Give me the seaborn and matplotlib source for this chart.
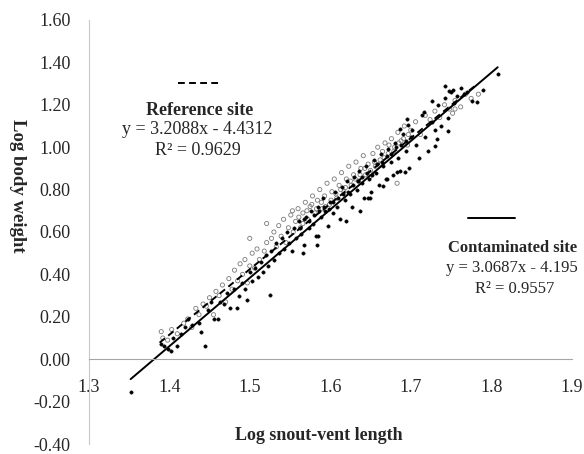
import numpy as np
import pandas as pd
import matplotlib
matplotlib.use("Agg")
import matplotlib.pyplot as plt
import seaborn as sns

# reference site (open circles)
ref_x = [1.390, 1.392, 1.398, 1.403, 1.410, 1.418, 1.423, 1.428, 1.433, 1.437,
         1.442, 1.446, 1.450, 1.455, 1.458, 1.462, 1.466, 1.470, 1.474, 1.478,
         1.481, 1.485, 1.488, 1.491, 1.494, 1.497, 1.500, 1.503, 1.506, 1.509,
         1.512, 1.500, 1.518, 1.521, 1.521, 1.527, 1.530, 1.533, 1.536, 1.539,
         1.542, 1.545, 1.548, 1.551, 1.553, 1.554, 1.557, 1.560, 1.563, 1.566,
         1.569, 1.572, 1.575, 1.578, 1.581, 1.584, 1.587, 1.590, 1.593, 1.596,
         1.599, 1.602, 1.605, 1.608, 1.611, 1.614, 1.617, 1.620, 1.623, 1.626,
         1.629, 1.632, 1.635, 1.638, 1.641, 1.644, 1.647, 1.650, 1.653, 1.656,
         1.659, 1.662, 1.665, 1.668, 1.672, 1.676, 1.680, 1.683, 1.684, 1.688,
         1.692, 1.696, 1.700, 1.706, 1.712, 1.718, 1.724, 1.730, 1.736, 1.742,
         1.748, 1.752, 1.755, 1.755, 1.762, 1.768, 1.775, 1.784,
         1.561, 1.566, 1.571, 1.577, 1.583, 1.589, 1.594, 1.601, 1.607, 1.613,
         1.619, 1.625, 1.631, 1.637, 1.643, 1.649, 1.655, 1.661, 1.667, 1.673,
         1.679, 1.685, 1.691, 1.697]
ref_y = [0.13, 0.10, 0.09, 0.14, 0.12, 0.17, 0.19, 0.15, 0.24, 0.21,
         0.26, 0.25, 0.29, 0.21, 0.32, 0.30, 0.35, 0.27, 0.38, 0.33,
         0.42, 0.37, 0.45, 0.40, 0.47, 0.36, 0.44, 0.50, 0.43, 0.52,
         0.47, 0.57, 0.51, 0.55, 0.64, 0.57, 0.60, 0.53, 0.63, 0.58,
         0.66, 0.55, 0.62, 0.68, 0.70, 0.60, 0.65, 0.71, 0.62, 0.69,
         0.74, 0.66, 0.72, 0.77, 0.69, 0.75, 0.80, 0.71, 0.77, 0.83,
         0.73, 0.79, 0.85, 0.76, 0.82, 0.88, 0.79, 0.85, 0.91, 0.82,
         0.87, 0.93, 0.84, 0.90, 0.96, 0.87, 0.92, 0.89, 0.97, 0.91,
         1.00, 0.94, 0.98, 1.02, 0.97, 1.04, 1.00, 0.83, 1.07, 1.03,
         1.10, 1.01, 1.08, 1.12, 1.06, 1.15, 1.13, 1.17, 1.14, 1.20,
         1.18, 1.16, 1.18, 1.22, 1.19, 1.25, 1.23, 1.25,
         0.67, 0.64, 0.70, 0.73, 0.71, 0.74, 0.72, 0.75, 0.78, 0.80,
         0.81, 0.84, 0.85, 0.87, 0.90, 0.86, 0.93, 0.92, 0.95, 1.01,
         0.98, 1.02, 1.04, 1.06]

# contaminated site (filled dots)
con_x = [1.352, 1.390, 1.393, 1.398, 1.402, 1.405, 1.410, 1.415, 1.420, 1.423,
         1.428, 1.437, 1.440, 1.445, 1.448, 1.452, 1.455, 1.460, 1.463, 1.468,
         1.472, 1.476, 1.480, 1.484, 1.487, 1.490, 1.494, 1.497, 1.500, 1.503,
         1.507, 1.510, 1.514, 1.517, 1.520, 1.523, 1.525, 1.527, 1.530, 1.533,
         1.536, 1.540, 1.543, 1.546, 1.549, 1.552, 1.555, 1.558, 1.561, 1.564,
         1.566, 1.567, 1.570, 1.573, 1.576, 1.579, 1.582, 1.583, 1.585, 1.585,
         1.588, 1.591, 1.594, 1.597, 1.600, 1.603, 1.606, 1.609, 1.612, 1.615,
         1.618, 1.620, 1.621, 1.624, 1.627, 1.630, 1.633, 1.636, 1.637, 1.639,
         1.642, 1.645, 1.647, 1.648, 1.649, 1.651, 1.654, 1.657, 1.660, 1.663,
         1.665, 1.666, 1.669, 1.671, 1.672, 1.675, 1.678, 1.681, 1.683, 1.684,
         1.687, 1.687, 1.690, 1.693, 1.694, 1.695, 1.696, 1.698, 1.702, 1.706,
         1.710, 1.714, 1.717, 1.718, 1.722, 1.726, 1.726, 1.730, 1.730, 1.732,
         1.734, 1.738, 1.742, 1.742, 1.746, 1.746, 1.748, 1.750, 1.752, 1.754,
         1.758, 1.762, 1.766, 1.770, 1.776, 1.782, 1.790, 1.808,
         1.562, 1.568, 1.574, 1.580, 1.586, 1.592, 1.598, 1.604, 1.610, 1.616,
         1.622, 1.628, 1.634, 1.640, 1.646, 1.652, 1.658, 1.664, 1.670, 1.676,
         1.682, 1.688, 1.694, 1.700]
con_y = [-0.155, 0.07, 0.06, 0.05, 0.04, 0.10, 0.06, 0.12, 0.15, 0.19,
         0.16, 0.17, 0.13, 0.06, 0.23, 0.27, 0.19, 0.19, 0.27, 0.26,
         0.31, 0.24, 0.33, 0.24, 0.30, 0.36, 0.33, 0.28, 0.41, 0.37,
         0.43, 0.39, 0.46, 0.41, 0.49, 0.44, 0.305, 0.51, 0.47, 0.55,
         0.50, 0.57, 0.52, 0.60, 0.55, 0.51, 0.62, 0.57, 0.65, 0.59,
         0.50, 0.54, 0.67, 0.62, 0.70, 0.64, 0.58, 0.54, 0.72, 0.58,
         0.67, 0.76, 0.70, 0.63, 0.74, 0.69, 0.79, 0.72, 0.66, 0.81,
         0.75, 0.65, 0.84, 0.78, 0.72, 0.86, 0.80, 0.89, 0.70, 0.83,
         0.76, 0.91, 0.76, 0.85, 0.76, 0.79, 0.94, 0.88, 0.82, 0.97,
         0.815, 0.91, 0.85, 0.852, 0.99, 0.93, 0.87, 1.02, 0.885, 0.95,
         0.89, 1.087, 1.06, 0.885, 0.98, 1.133, 1.105, 0.90, 1.08, 1.01,
         0.95, 1.15, 1.166, 1.05, 0.98, 1.12, 1.22, 1.08, 1.007, 1.04,
         1.20, 1.10, 1.23, 1.288, 1.14, 1.077, 1.265, 1.26, 1.27, 1.21,
         1.24, 1.28, 1.25, 1.26, 1.22, 1.213, 1.27, 1.344,
         0.62, 0.66, 0.65, 0.68, 0.70, 0.72, 0.71, 0.74, 0.76, 0.78,
         0.79, 0.82, 0.84, 0.86, 0.88, 0.87, 0.92, 0.93, 0.96, 0.97,
         1.00, 1.01, 1.03, 1.05]

# fitted lines as drawn (end points)
con_line_x = [1.352, 1.808]
con_line_y = [-0.094, 1.377]
ref_line_x = [1.388, 1.780]
ref_line_y = [0.078, 1.290]

x_ticks = [1.3, 1.4, 1.5, 1.6, 1.7, 1.8, 1.9]
y_ticks = [-0.40, -0.20, 0.00, 0.20, 0.40, 0.60, 0.80, 1.00, 1.20, 1.40, 1.60]

sns.set_style("white")
plt.rcParams["font.family"] = ["Liberation Serif", "DejaVu Serif"]

fig = plt.figure(figsize=(5.84, 4.54), dpi=100)
ax = fig.add_axes([0.152, 0.022, 0.827, 0.934])

ref_df = pd.DataFrame({"x": ref_x, "y": ref_y})
con_df = pd.DataFrame({"x": con_x, "y": con_y})

sns.scatterplot(data=ref_df, x="x", y="y", ax=ax, marker="o", s=9,
                facecolor="none", edgecolor="#7a7a7a", linewidth=0.6)
sns.scatterplot(data=con_df, x="x", y="y", ax=ax, marker="o", s=6,
                color="black", edgecolor="black", linewidth=0.3)

ax.plot(ref_line_x, ref_line_y, color="black", lw=1.4, ls=(0, (3.5, 2.2)))
ax.plot(con_line_x, con_line_y, color="black", lw=1.4)

# legend samples and equations
ax.plot([1.4106, 1.4652], [1.302, 1.302], color="black", lw=1.4, ls=(0, (3.5, 2.2)))
ax.plot([1.771, 1.830], [0.665, 0.665], color="black", lw=1.4)

ax.text(1.438, 1.171, "Reference site", ha="center", va="center",
        fontsize=13, fontweight="bold")
ax.text(1.435, 1.082, "y = 3.2088x - 4.4312", ha="center", va="center", fontsize=13)
ax.text(1.436, 0.984, "R² = 0.9629", ha="center", va="center", fontsize=13)

ax.text(1.826, 0.525, "Contaminated site", ha="center", va="center",
        fontsize=12, fontweight="bold")
ax.text(1.826, 0.431, "y = 3.0687x - 4.195", ha="center", va="center", fontsize=12)
ax.text(1.829, 0.333, "R² = 0.9557", ha="center", va="center", fontsize=12)

ax.set_xlim(1.3, 1.9)
ax.set_ylim(-0.40, 1.60)
ax.set_xticks(x_ticks)
ax.set_xticklabels([f"{v:.1f}" for v in x_ticks])
ax.set_yticks(y_ticks)
ax.set_yticklabels([f"{v:.2f}" for v in y_ticks])

for side in ["top", "right"]:
    ax.spines[side].set_visible(False)
ax.spines["bottom"].set_position(("data", 0))
ax.spines["bottom"].set_color("#a6a6a6")
ax.spines["left"].set_color("#c8c8c8")
ax.tick_params(axis="x", direction="out", length=5, color="#a6a6a6",
               labelsize=13, pad=9)
ax.tick_params(axis="y", direction="out", length=5, color="#c8c8c8",
               labelsize=13, pad=8)
ax.set_xlabel("")
ax.set_ylabel("")

fig.text(17 / 584, 1 - 186 / 454, "Log body weight", rotation=270,
         ha="center", va="center", fontsize=13.5, fontweight="bold")
fig.text(319 / 584, 1 - 436 / 454, "Log snout-vent length",
         ha="center", va="center", fontsize=13, fontweight="bold")

fig.savefig("out.png", dpi=100)
